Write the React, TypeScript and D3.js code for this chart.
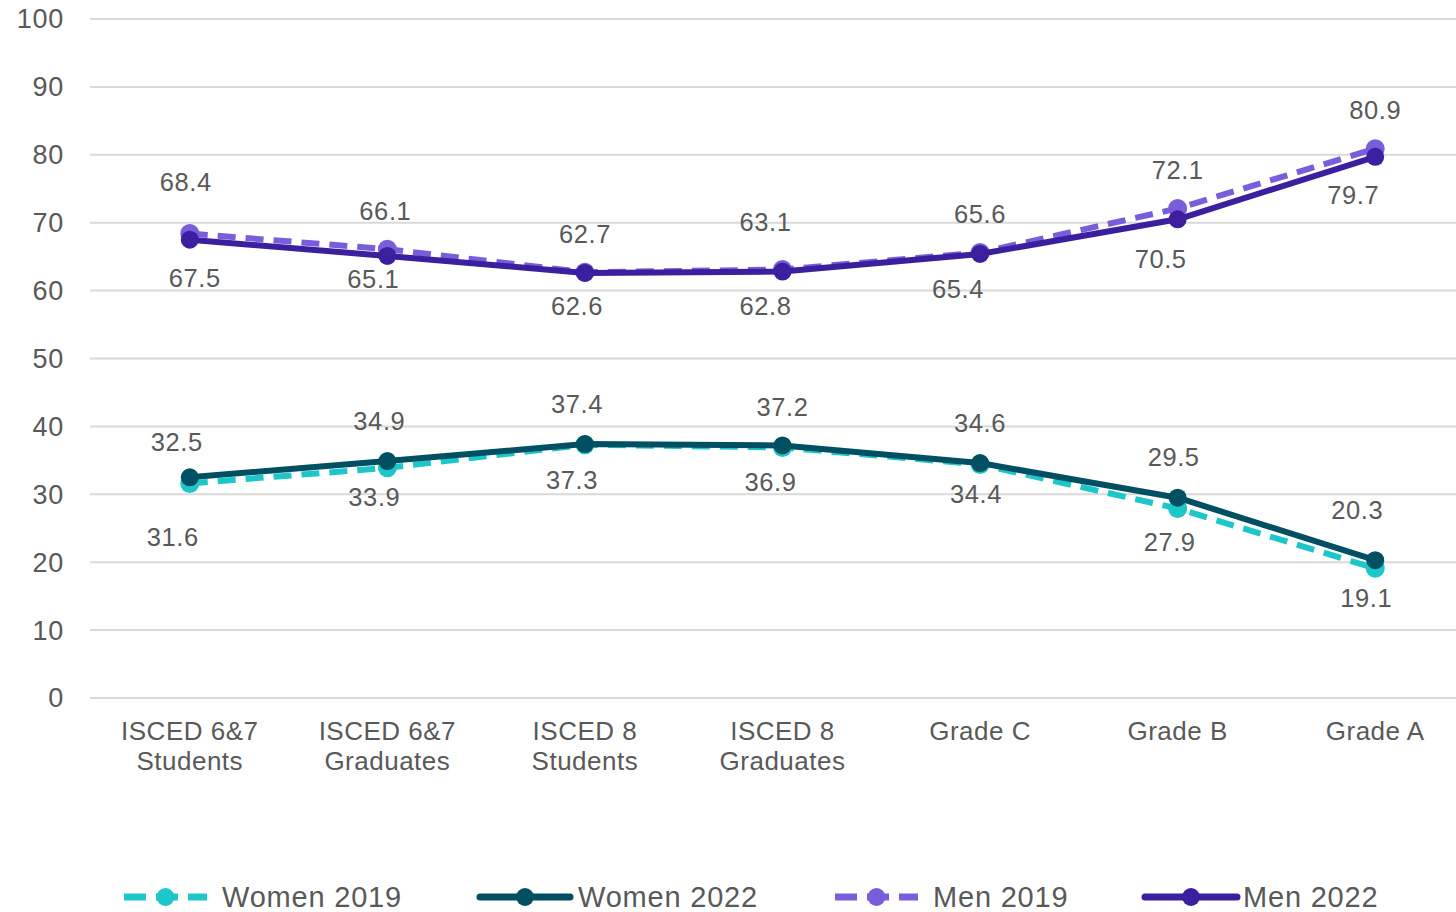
import React, { useEffect, useRef } from "react";
import * as d3 from "d3";

const categories = [
  ["ISCED 6&7", "Students"],
  ["ISCED 6&7", "Graduates"],
  ["ISCED 8", "Students"],
  ["ISCED 8", "Graduates"],
  ["Grade C"],
  ["Grade B"],
  ["Grade A"],
];
const women2019 = [31.6, 33.9, 37.3, 36.9, 34.4, 27.9, 19.1];
const women2022 = [32.5, 34.9, 37.4, 37.2, 34.6, 29.5, 20.3];
const men2019 = [68.4, 66.1, 62.7, 63.1, 65.6, 72.1, 80.9];
const men2022 = [67.5, 65.1, 62.6, 62.8, 65.4, 70.5, 79.7];
const yTicks = [0, 10, 20, 30, 40, 50, 60, 70, 80, 90, 100];

// label nudges (layout only), [dx, dy] from the point
const nudgeW19 = [[-17, 54], [-13, 29], [-13, 35], [-12, 35], [-4, 30], [-8, 34], [-9, 30]];
const nudgeW22 = [[-13, -35], [-8, -40], [-8, -40], [0, -38], [0, -40], [-4, -41], [-18, -50]];
const nudgeM19 = [[-4, -51], [-2, -38], [0, -38], [-17, -47], [0, -39], [0, -38], [0, -39]];
const nudgeM22 = [[5, 38], [-14, 23], [-8, 33], [-17, 34], [-22, 35], [-17, 40], [-22, 38]];

const FONT = "'Liberation Sans', Arial, sans-serif";
const TXT = "#595959";

const App = () => {
  const ref = useRef<SVGSVGElement>(null);

  useEffect(() => {
    document.body.style.margin = "0";
    draw();
  });

  const draw = () => {
    const svg = d3.select(ref.current);
    svg.selectAll("*").remove();

    const x = d3
      .scalePoint<number>()
      .domain(d3.range(categories.length))
      .range([91, 1474])
      .padding(0.5);
    const y = d3.scaleLinear().domain([0, 100]).range([698, 19]);

    // gridlines
    svg
      .append("g")
      .selectAll("line")
      .data(yTicks)
      .join("line")
      .attr("x1", 90)
      .attr("x2", 1456)
      .attr("y1", (d) => y(d))
      .attr("y2", (d) => y(d))
      .attr("stroke", "#d9d9d9")
      .attr("stroke-width", 2);

    svg
      .append("g")
      .selectAll("text")
      .data(yTicks)
      .join("text")
      .attr("x", 64)
      .attr("y", (d) => y(d))
      .attr("dy", "0.35em")
      .attr("text-anchor", "end")
      .attr("font-family", FONT)
      .attr("font-size", 27)
      .attr("letter-spacing", 0.7)
      .attr("fill", TXT)
      .text((d) => d);

    // category labels
    const cat = svg
      .append("g")
      .selectAll("text")
      .data(categories)
      .join("text")
      .attr("x", (_, i) => x(i) as number)
      .attr("y", 731)
      .attr("text-anchor", "middle")
      .attr("font-family", FONT)
      .attr("font-size", 26)
      .attr("letter-spacing", 0.5)
      .attr("fill", TXT);
    cat
      .selectAll("tspan")
      .data((d) => d)
      .join("tspan")
      .attr("x", function () {
        return (this as any).parentNode.getAttribute("x");
      })
      .attr("dy", (_, j) => (j === 0 ? "0.35em" : 30))
      .text((d) => d);

    const series = [
      { name: "Women 2019", values: women2019, color: "#1cc6c9", dash: "18,10", nudge: nudgeW19 },
      { name: "Men 2019", values: men2019, color: "#7a5ddb", dash: "18,10", nudge: nudgeM19 },
      { name: "Women 2022", values: women2022, color: "#004f63", dash: null, nudge: nudgeW22 },
      { name: "Men 2022", values: men2022, color: "#3b1f9e", dash: null, nudge: nudgeM22 },
    ];

    const line = d3
      .line<number>()
      .x((_, i) => x(i) as number)
      .y((d) => y(d));

    series.forEach((s) => {
      const g = svg.append("g");
      g.append("path")
        .datum(s.values)
        .attr("fill", "none")
        .attr("stroke", s.color)
        .attr("stroke-width", 6)
        .attr("stroke-dasharray", s.dash)
        .attr("stroke-linejoin", "round")
        .attr("d", line);
      g.selectAll("circle")
        .data(s.values)
        .join("circle")
        .attr("cx", (_, i) => x(i) as number)
        .attr("cy", (d) => y(d))
        .attr("r", s.dash ? 9.5 : 9)
        .attr("fill", s.color);
    });

    series.forEach((s) => {
      svg
        .append("g")
        .selectAll("text")
        .data(s.values)
        .join("text")
        .attr("x", (_, i) => (x(i) as number) + s.nudge[i][0])
        .attr("y", (d, i) => y(d) + s.nudge[i][1])
        .attr("dy", "0.35em")
        .attr("text-anchor", "middle")
        .attr("font-family", FONT)
        .attr("font-size", 25.5)
        .attr("letter-spacing", 0.6)
        .attr("fill", TXT)
        .text((d) => d.toFixed(1));
    });

    // legend
    const legend = [
      { name: "Women 2019", color: "#1cc6c9", dash: true, x0: 124, x1: 207, tx: 222 },
      { name: "Women 2022", color: "#004f63", dash: false, x0: 480, x1: 570, tx: 578 },
      { name: "Men 2019", color: "#7a5ddb", dash: true, x0: 835, x1: 918, tx: 933 },
      { name: "Men 2022", color: "#3b1f9e", dash: false, x0: 1145, x1: 1237, tx: 1243 },
    ];
    const ly = 897;
    legend.forEach((l) => {
      const g = svg.append("g");
      g.append("line")
        .attr("x1", l.x0)
        .attr("x2", l.x1)
        .attr("y1", ly)
        .attr("y2", ly)
        .attr("stroke", l.color)
        .attr("stroke-width", 7)
        .attr("stroke-linecap", l.dash ? "butt" : "round")
        .attr("stroke-dasharray", l.dash ? "22,10" : null);
      g.append("circle")
        .attr("cx", (l.x0 + l.x1) / 2)
        .attr("cy", ly)
        .attr("r", 9)
        .attr("fill", l.color);
      g.append("text")
        .attr("x", l.tx)
        .attr("y", ly)
        .attr("dy", "0.35em")
        .attr("font-family", FONT)
        .attr("font-size", 29)
        .attr("letter-spacing", 0.8)
        .attr("fill", TXT)
        .text(l.name);
    });
  };

  return <svg ref={ref} width={1456} height={912} style={{ display: "block" }} />;
};

export default App;
